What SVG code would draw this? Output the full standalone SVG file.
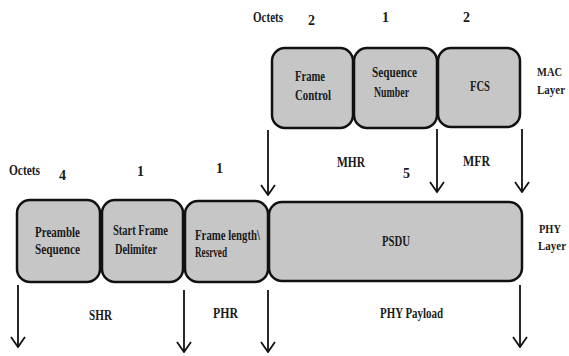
<svg xmlns="http://www.w3.org/2000/svg" width="569" height="356" viewBox="0 0 569 356">
<style>
text{font-family:"Liberation Serif","Times New Roman",serif;font-weight:bold;font-size:14px;fill:#1a1a1a}
.side{font-size:12.5px}
.box{fill:#c6c6c6;stroke:#111;stroke-width:2.5}
.ar{stroke:#111;stroke-width:1.8;fill:none}
</style>
<defs>
<marker id="v" viewBox="0 0 12 16" refX="11" refY="8" markerWidth="12" markerHeight="16" markerUnits="userSpaceOnUse" orient="auto">
<path d="M1,1 L11,8 L1,15" fill="none" stroke="#111" stroke-width="1.8"/>
</marker>
</defs>
<rect width="569" height="356" fill="#fff"/>
<g id="labels">
<text x="253" y="22" textLength="30" lengthAdjust="spacingAndGlyphs">Octets</text>
<text x="308" y="25">2</text>
<text x="382" y="22">1</text>
<text x="463" y="22">2</text>
<text class="side" x="537" y="76" textLength="25" lengthAdjust="spacingAndGlyphs">MAC</text>
<text class="side" x="537" y="94" textLength="28" lengthAdjust="spacingAndGlyphs">Layer</text>
<text x="337" y="167" textLength="28" lengthAdjust="spacingAndGlyphs">MHR</text>
<text x="403" y="178">5</text>
<text x="463" y="166" textLength="27" lengthAdjust="spacingAndGlyphs">MFR</text>
<text x="9" y="175" textLength="31" lengthAdjust="spacingAndGlyphs">Octets</text>
<text x="59" y="180">4</text>
<text x="137" y="176">1</text>
<text x="216" y="173">1</text>
<text class="side" x="539" y="233" textLength="22" lengthAdjust="spacingAndGlyphs">PHY</text>
<text class="side" x="538" y="250" textLength="28" lengthAdjust="spacingAndGlyphs">Layer</text>
<text x="89" y="320" textLength="23" lengthAdjust="spacingAndGlyphs">SHR</text>
<text x="213" y="318" textLength="25" lengthAdjust="spacingAndGlyphs">PHR</text>
<text x="380" y="318" textLength="63" lengthAdjust="spacingAndGlyphs">PHY Payload</text>
</g>
<g id="frame-control"><rect class="box" x="272" y="48" width="81" height="80" rx="13"/><text x="295" y="81" textLength="30" lengthAdjust="spacingAndGlyphs">Frame</text><text x="295" y="100" textLength="36" lengthAdjust="spacingAndGlyphs">Control</text></g>
<g id="sequence-number"><rect class="box" x="354" y="48" width="83" height="80" rx="13"/><text x="372" y="77" textLength="45" lengthAdjust="spacingAndGlyphs">Sequence</text><text x="374" y="97" textLength="35" lengthAdjust="spacingAndGlyphs">Number</text></g>
<g id="fcs"><rect class="box" x="438" y="48" width="82" height="79" rx="13"/><text x="470" y="91" textLength="20" lengthAdjust="spacingAndGlyphs">FCS</text></g>
<g id="preamble"><rect class="box" x="17" y="200" width="83" height="82" rx="13"/><text x="35" y="237" textLength="45" lengthAdjust="spacingAndGlyphs">Preamble</text><text x="35" y="254" textLength="45" lengthAdjust="spacingAndGlyphs">Sequence</text></g>
<g id="sfd"><rect class="box" x="102" y="200" width="81" height="82" rx="13"/><text x="113" y="235" textLength="55" lengthAdjust="spacingAndGlyphs">Start Frame</text><text x="115" y="254" textLength="42" lengthAdjust="spacingAndGlyphs">Delimiter</text></g>
<g id="frame-length"><rect class="box" x="185" y="201" width="83" height="81" rx="13"/><text x="195" y="240" textLength="65" lengthAdjust="spacingAndGlyphs">Frame length\</text><text x="195" y="257" textLength="32" lengthAdjust="spacingAndGlyphs">Resrved</text></g>
<g id="psdu"><rect class="box" x="269" y="202" width="253" height="79" rx="13"/><text x="382" y="246" textLength="28" lengthAdjust="spacingAndGlyphs">PSDU</text></g>
<g id="connectors">
<line class="ar" x1="268" y1="130" x2="268" y2="195" marker-end="url(#v)"/>
<line class="ar" x1="437" y1="129" x2="437" y2="192" marker-end="url(#v)"/>
<line class="ar" x1="522" y1="129" x2="522" y2="192" marker-end="url(#v)"/>
<line class="ar" x1="18" y1="285" x2="18" y2="347" marker-end="url(#v)"/>
<line class="ar" x1="184" y1="290" x2="184" y2="352" marker-end="url(#v)"/>
<line class="ar" x1="268" y1="290" x2="268" y2="352" marker-end="url(#v)"/>
<line class="ar" x1="520" y1="285" x2="520" y2="347" marker-end="url(#v)"/>
</g>
</svg>
